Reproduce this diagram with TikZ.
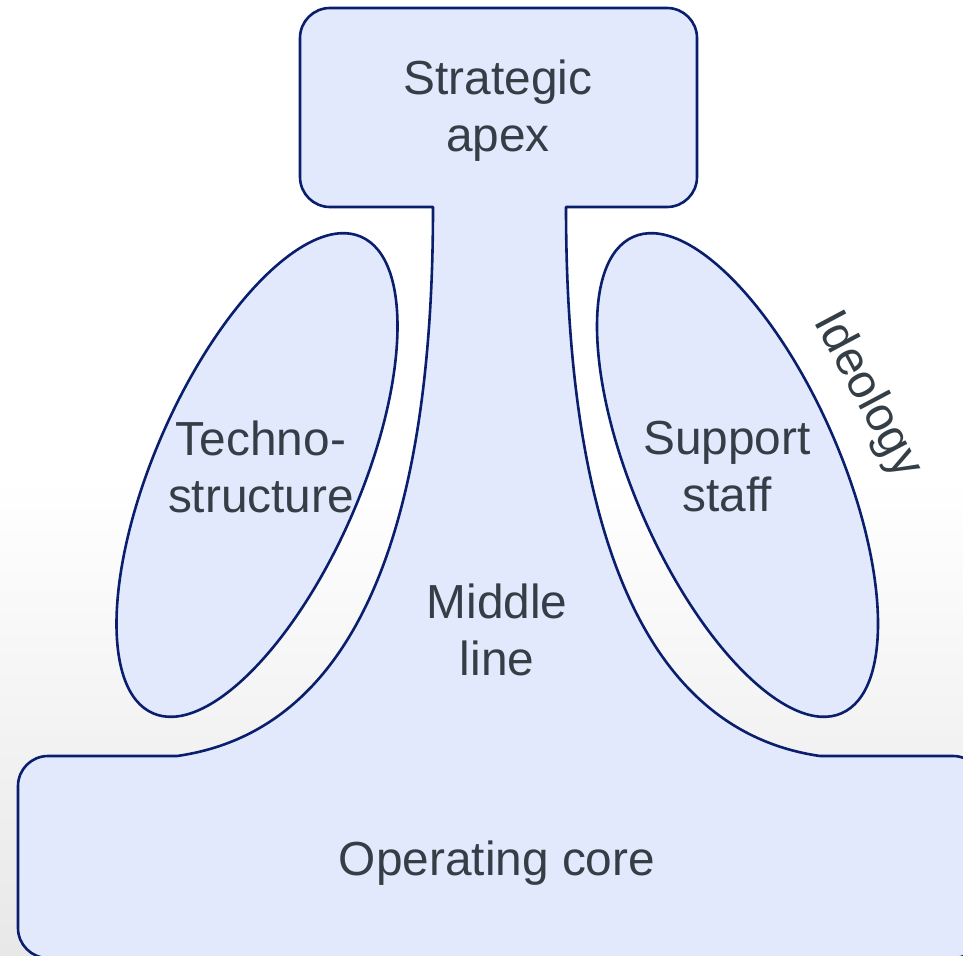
\documentclass[tikz,border=0pt]{standalone}
\usepackage{fontspec}
\setmainfont{Liberation Sans}
\definecolor{shapefill}{RGB}{227,233,252}
\definecolor{shapeline}{RGB}{10,30,110}
\definecolor{txt}{RGB}{52,62,70}
\definecolor{bgbot}{RGB}{231,232,231}
\pgfdeclareverticalshading{bgshade}{100bp}{color(0bp)=(bgbot); color(25bp)=(bgbot); color(50bp)=(white); color(100bp)=(white)}
\begin{document}
\begin{tikzpicture}[x=1pt,y=-1pt,
  shapestyle/.style={fill=shapefill,draw=shapeline,line width=2.6pt,line join=round},
  label/.style={text=txt,font=\fontsize{47.8}{57}\selectfont,align=center,inner sep=0pt}]
\useasboundingbox (0,0) rectangle (963,955);
\shade[shading=bgshade] (0,0) rectangle (963,955);
\begin{scope}
\clip (0,0) rectangle (963,955);
% combined outline: apex, middle line, operating core
\path[shapestyle]
  (433,207) -- (330,207) arc[start angle=90,end angle=180,radius=30]
  -- (300,38) arc[start angle=180,end angle=270,radius=30]
  -- (667,8) arc[start angle=270,end angle=360,radius=30]
  -- (697,177) arc[start angle=0,end angle=90,radius=30]
  -- (566,207)
  .. controls (566,520) and (639,730) .. (820,756)
  -- (953,756) arc[start angle=270,end angle=360,radius=30]
  -- (983,928) arc[start angle=0,end angle=90,radius=30]
  -- (48,958) arc[start angle=90,end angle=180,radius=30]
  -- (18,786) arc[start angle=180,end angle=270,radius=30]
  -- (177,756)
  .. controls (360,730) and (433,520) .. (433,207) -- cycle;
\end{scope}
% side ellipses
\draw[shapestyle] (257,475) ellipse[x radius=260,y radius=103,rotate=66.4];
\draw[shapestyle] (737.5,475) ellipse[x radius=260,y radius=103,rotate=-66.4];
% labels
\node[label] (apex) at (498,110.5) {Strategic\\apex};
\node[label] (techno) at (261,467) {Techno-\\structure};
\node[label] (support) at (727,467) {Support\\staff};
\node[label] (middle) at (497,630) {Middle\\line};
\node[label,anchor=base] (core) at (497,875) {Operating core};
\node[label,rotate=-62] (ideology) at (867,395) {Ideology};
\end{tikzpicture}
\end{document}
